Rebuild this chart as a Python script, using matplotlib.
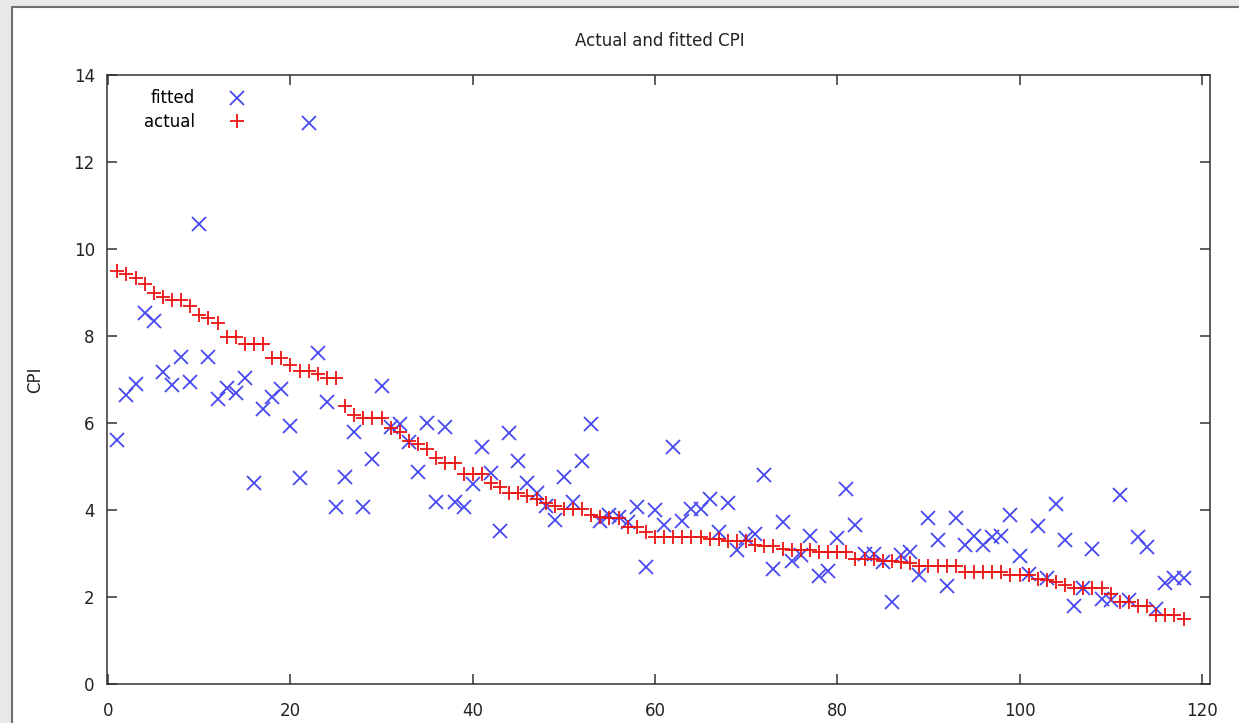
import numpy as np
import matplotlib
matplotlib.use("Agg")
import matplotlib.pyplot as plt
from matplotlib.patches import Rectangle

# sample index 1..118
x = np.arange(1, 119)

actual = [
    9.50, 9.43, 9.35, 9.20, 8.99, 8.91, 8.83, 8.83, 8.70, 8.49,
    8.41, 8.31, 7.99, 7.99, 7.82, 7.82, 7.82, 7.49, 7.49, 7.34,
    7.21, 7.21, 7.13, 7.03, 7.03, 6.40, 6.19, 6.12, 6.12, 6.12,
    5.90, 5.81, 5.60, 5.52, 5.42, 5.20, 5.09, 5.09, 4.83, 4.83,
    4.83, 4.63, 4.53, 4.40, 4.40, 4.33, 4.25, 4.17, 4.10, 4.02,
    4.02, 4.02, 3.89, 3.85, 3.82, 3.82, 3.62, 3.62, 3.51, 3.38,
    3.38, 3.38, 3.38, 3.38, 3.38, 3.33, 3.33, 3.30, 3.30, 3.30,
    3.20, 3.18, 3.18, 3.10, 3.09, 3.09, 3.09, 3.03, 3.03, 3.03,
    3.03, 2.87, 2.87, 2.87, 2.84, 2.84, 2.82, 2.80, 2.72, 2.72,
    2.72, 2.72, 2.72, 2.59, 2.59, 2.59, 2.59, 2.59, 2.51, 2.51,
    2.51, 2.41, 2.40, 2.36, 2.28, 2.21, 2.21, 2.21, 2.21, 2.08,
    1.90, 1.90, 1.80, 1.80, 1.59, 1.59, 1.59, 1.49,
]

fitted = [
    5.62, 6.65, 6.90, 8.53, 8.36, 7.19, 6.87, 7.53, 6.94, 10.58,
    7.53, 6.56, 6.80, 6.70, 7.03, 4.63, 6.34, 6.61, 6.78, 5.94,
    4.74, 12.90, 7.62, 6.50, 4.08, 4.77, 5.81, 4.08, 5.19, 6.86,
    5.91, 5.98, 5.58, 4.87, 6.01, 4.20, 5.91, 4.20, 4.07, 4.60,
    5.45, 4.86, 3.53, 5.77, 5.14, 4.62, 4.39, 4.10, 3.78, 4.77,
    4.20, 5.14, 5.98, 3.76, 3.89, 3.85, 3.72, 4.07, 2.69, 4.01,
    3.66, 5.45, 3.76, 4.02, 4.02, 4.27, 3.51, 4.17, 3.09, 3.36,
    3.46, 4.81, 2.64, 3.74, 2.84, 2.97, 3.41, 2.49, 2.61, 3.36,
    4.48, 3.66, 3.00, 3.00, 2.82, 1.90, 2.97, 3.03, 2.52, 3.82,
    3.32, 2.26, 3.82, 3.20, 3.41, 3.20, 3.38, 3.41, 3.89, 2.95,
    2.54, 3.64, 2.44, 4.14, 3.32, 1.80, 2.21, 3.10, 1.95, 1.94,
    4.35, 1.94, 3.38, 3.15, 1.72, 2.34, 2.44, 2.44,
]

W, H = 1239, 723
fig = plt.figure(figsize=(W / 100, H / 100), dpi=100)
fig.patch.set_facecolor("#e9e9e9")

# window-like frame behind the plot
frame = Rectangle((12 / W, -0.05), 1.1, 1 - 7 / H + 0.05,
                  transform=fig.transFigure, facecolor="white",
                  edgecolor="#707070", linewidth=1.5, zorder=-10)
fig.patches.append(frame)

ax = fig.add_axes([107.3 / W, (H - 684.3) / H, (1210 - 107.3) / W, (684.3 - 75.3) / H])
ax.set_zorder(5)
ax.set_facecolor("white")

ax.plot(x, fitted, linestyle="none", marker="x", markersize=9.5, markeredgewidth=1.3,
        color="#4848f0", label="fitted")
ax.plot(x, actual, linestyle="none", marker="+", markersize=9.5, markeredgewidth=1.3,
        color="#ee1111", label="actual")

ax.set_xlim(-0.1, 120.9)
ax.set_ylim(0, 14)
ax.set_xticks(np.arange(0, 121, 20))
ax.set_yticks(np.arange(0, 15, 2))

for s in ax.spines.values():
    s.set_color("#333333")
    s.set_linewidth(1.1)

ax.tick_params(axis="both", direction="in", top=True, right=True, length=7,
               width=1.1, color="#333333", labelsize=12, labelcolor="#222222")
ax.tick_params(axis="x", pad=13)
ax.tick_params(axis="y", pad=9)

ax.set_ylabel("CPI", fontsize=12, color="#222222")
ax.yaxis.set_label_coords(-(107.3 - 44) / (1210 - 107.3), 0.5)

fig.text(660 / W, 1 - 41 / H, "Actual and fitted CPI", ha="center", va="center",
         fontsize=12, color="#222222", zorder=6)

ax.legend(loc="upper left", bbox_to_anchor=(0.0225, 0.996), frameon=False,
          markerfirst=False, fontsize=12, handlelength=1.2, handletextpad=1.95,
          labelspacing=0.33, borderaxespad=0.3)

fig.savefig("out.png", dpi=100, facecolor=fig.get_facecolor())
